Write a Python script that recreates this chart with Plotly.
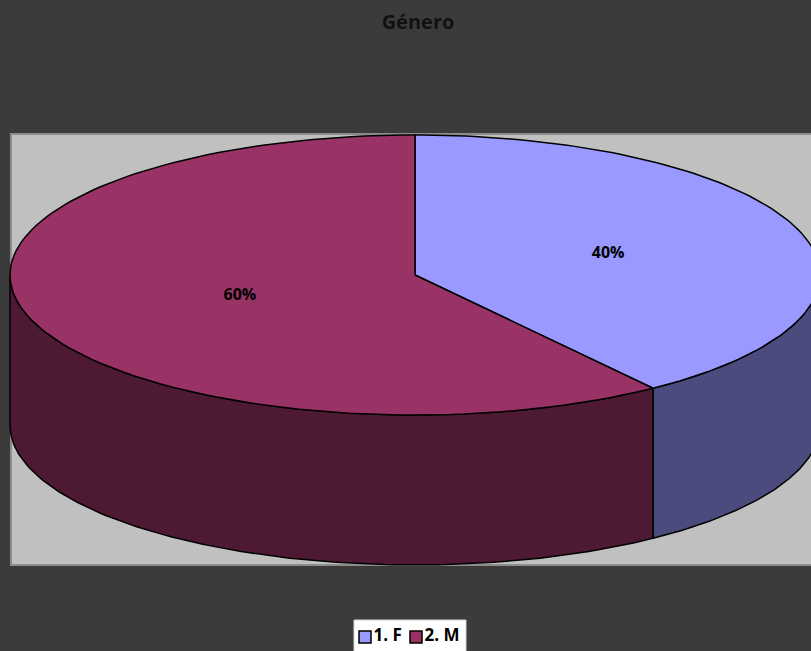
import numpy as np
import plotly.graph_objects as go

# ---- data ----
categories = ["1. F", "2. M"]
values = [40, 60]
top_colors = ["#9999FF", "#993366"]
side_colors = ["#4B4B7D", "#4D1933"]
title_text = "Género"

# ---- geometry (screen pixels) ----
W, H = 811, 651
cx, cy = 415, 275
rx, ry = 405, 140
depth = 150

def arc(a1, a2, n=120, dy=0):
    a = np.radians(np.linspace(a1, a2, n))
    return cx + rx * np.cos(a), cy - ry * np.sin(a) + dy

total = sum(values)
fig = go.Figure()

# slice angles (start at 12 o'clock, clockwise)
angles = []
start = 90.0
for v in values:
    end = start - 360.0 * v / total
    angles.append((start, end))
    start = end

# side faces (visible front half: -180..0)
for i, (a_s, a_e) in enumerate(angles):
    for shift in (0, 360, -360):
        lo = max(a_e + shift, -180)
        hi = min(a_s + shift, 0)
        if hi > lo:
            tx, ty = arc(hi, lo)
            bx, by = arc(lo, hi, dy=depth)
            xs = np.concatenate([tx, bx, [tx[0]]])
            ys = np.concatenate([ty, by, [ty[0]]])
            fig.add_trace(go.Scatter(x=xs, y=ys, mode="lines", fill="toself",
                                     fillcolor=side_colors[i],
                                     line=dict(color="black", width=1.5),
                                     hoverinfo="skip", showlegend=False))

# top faces
for i, (a_s, a_e) in enumerate(angles):
    tx, ty = arc(a_s, a_e)
    xs = np.concatenate([[cx], tx, [cx]])
    ys = np.concatenate([[cy], ty, [cy]])
    fig.add_trace(go.Scatter(x=xs, y=ys, mode="lines", fill="toself",
                             fillcolor=top_colors[i],
                             line=dict(color="black", width=1.5),
                             hoverinfo="skip", showlegend=False))

# labels
lx, ly, lt = [], [], []
for i, (a_s, a_e) in enumerate(angles):
    m = np.radians((a_s + a_e) / 2)
    lx.append(cx + 0.478 * rx * np.cos(m) + 9)
    ly.append(cy - 0.478 * ry * np.sin(m))
    lt.append(f"{values[i] / total * 100:.0f}%")
fig.add_trace(go.Scatter(x=lx, y=ly, mode="text", text=lt,
                         textfont=dict(family="Open Sans", size=16, color="black", weight="bold"),
                         hoverinfo="skip", showlegend=False))

# legend (manual, Excel style)
leg_x0, leg_step, leg_y = 365, 51, 637
fig.add_trace(go.Scatter(
    x=[leg_x0 + k * leg_step for k in range(len(categories))],
    y=[leg_y] * len(categories),
    mode="markers+text", text=categories, textposition="middle right",
    textfont=dict(family="Open Sans", size=17, color="black", weight="bold"),
    marker=dict(symbol="square", size=12, color=top_colors,
                line=dict(color="black", width=1.5)),
    hoverinfo="skip", showlegend=False))

fig.update_layout(
    width=W, height=H, autosize=False,
    margin=dict(l=0, r=0, t=0, b=0),
    paper_bgcolor="#3B3B3B", plot_bgcolor="rgba(0,0,0,0)",
    xaxis=dict(range=[0, W], visible=False, fixedrange=True),
    yaxis=dict(range=[H, 0], visible=False, fixedrange=True),
    shapes=[dict(type="rect", xref="x", yref="y", x0=11, x1=830, y0=134, y1=565,
                 fillcolor="#C0C0C0", line=dict(color="#8C8C8C", width=2), layer="below"),
            dict(type="rect", xref="x", yref="y", x0=354, x1=466, y0=620, y1=660,
                 fillcolor="white", line=dict(color="#D8D8D8", width=1), layer="below")],
    title=dict(text=title_text, x=418 / W, xanchor="center", y=1 - 22 / H, yanchor="middle",
               font=dict(family="Open Sans", size=20, color="#111111", weight="bold")),
    showlegend=False,
)

fig.write_html("out.html", config={"displayModeBar": False},
               post_script="document.body.style.margin='0';document.body.style.overflow='hidden';")
